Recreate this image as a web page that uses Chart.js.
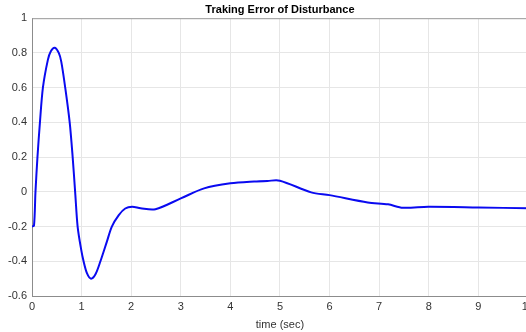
<!DOCTYPE html>
<html>
<head>
<meta charset="utf-8">
<script src="https://cdn.jsdelivr.net/npm/chart.js@4/dist/chart.umd.min.js"></script>
<style>
  html, body { margin: 0; padding: 0; background: #fff; overflow: hidden; }
  #wrap { width: 538px; height: 332px; }
</style>
</head>
<body>
<div id="wrap"><canvas id="errChart"></canvas></div>
<script>
// values
const timeValues = [0, 0.04, 0.07, 0.11, 0.16, 0.22, 0.32, 0.38, 0.46, 0.54, 0.59, 0.67, 0.76, 0.82,
  0.87, 0.92, 0.99, 1.04, 1.11, 1.19, 1.28, 1.38, 1.51, 1.61, 1.75, 1.88, 2.02, 2.19, 2.49,
  3.0, 3.47, 4.0, 4.48, 4.75, 5.0, 5.63, 6.0, 6.77, 7.18, 7.48, 7.99, 9.0, 10];
const errorValues = [-0.2, -0.195, 0.0, 0.2, 0.4, 0.6, 0.76, 0.81, 0.83, 0.8, 0.75, 0.6, 0.4, 0.2,
  0.0, -0.2, -0.33, -0.4, -0.47, -0.5, -0.475, -0.4, -0.287, -0.2, -0.134, -0.096, -0.086, -0.095, -0.1,
  -0.038, 0.02, 0.049, 0.06, 0.063, 0.064, -0.003, -0.019, -0.061, -0.072, -0.092, -0.086, -0.09, -0.095];
const xTicks = [0, 1, 2, 3, 4, 5, 6, 7, 8, 9, 10];
const yTicks = [-0.6, -0.4, -0.2, 0, 0.2, 0.4, 0.6, 0.8, 1];

const points = timeValues.map((t, i) => ({ x: t, y: errorValues[i] }));

// top/right box edge like MATLAB's "box on"
const boxPlugin = {
  id: 'box',
  afterDraw(chart) {
    const { ctx, chartArea: a } = chart;
    ctx.save();
    ctx.strokeStyle = '#9a9a9a';
    ctx.lineWidth = 1;
    ctx.beginPath();
    ctx.moveTo(a.left, a.top + 0.5);
    ctx.lineTo(a.right, a.top + 0.5);
    ctx.moveTo(a.right - 0.5, a.top);
    ctx.lineTo(a.right - 0.5, a.bottom);
    ctx.stroke();
    ctx.restore();
  }
};

new Chart(document.getElementById('errChart'), {
  type: 'line',
  data: {
    datasets: [{
      data: points,
      borderColor: '#0a0af0',
      borderWidth: 2,
      pointRadius: 0,
      fill: false,
      tension: 0.3
    }]
  },
  options: {
    responsive: true,
    maintainAspectRatio: false,
    animation: false,
    layout: { padding: { left: 0, right: 0, top: 0, bottom: 0 } },
    plugins: {
      legend: { display: false },
      tooltip: { enabled: false },
      title: {
        display: true,
        fullSize: false,
        text: 'Traking Error of Disturbance',
        color: '#000',
        font: { family: 'Liberation Sans, Arial, sans-serif', size: 11, weight: 'bold' },
        padding: { top: 3, bottom: 2 }
      }
    },
    scales: {
      x: {
        type: 'linear',
        min: 0,
        max: 10,
        afterBuildTicks: s => { s.ticks = xTicks.map(v => ({ value: v })); },
        afterFit: s => { s.height = 36; },
        grid: { color: '#e6e6e6', drawTicks: false },
        border: { color: '#8c8c8c' },
        ticks: {
          color: '#333',
          padding: 4,
          maxRotation: 0,
          font: { family: 'Liberation Sans, Arial, sans-serif', size: 11 }
        },
        title: {
          display: true,
          text: 'time (sec)',
          color: '#333',
          padding: { top: 0, bottom: 0 },
          font: { family: 'Liberation Sans, Arial, sans-serif', size: 11 }
        }
      },
      y: {
        min: -0.6,
        max: 1,
        afterBuildTicks: s => { s.ticks = yTicks.map(v => ({ value: v })); },
        afterFit: s => { s.width = 32; },
        grid: { color: '#e6e6e6', drawTicks: false },
        border: { color: '#8c8c8c' },
        ticks: {
          color: '#333',
          padding: 5,
          callback: v => Math.round(v * 10) / 10,
          font: { family: 'Liberation Sans, Arial, sans-serif', size: 11 }
        }
      }
    }
  },
  plugins: [boxPlugin]
});
</script>
</body>
</html>
